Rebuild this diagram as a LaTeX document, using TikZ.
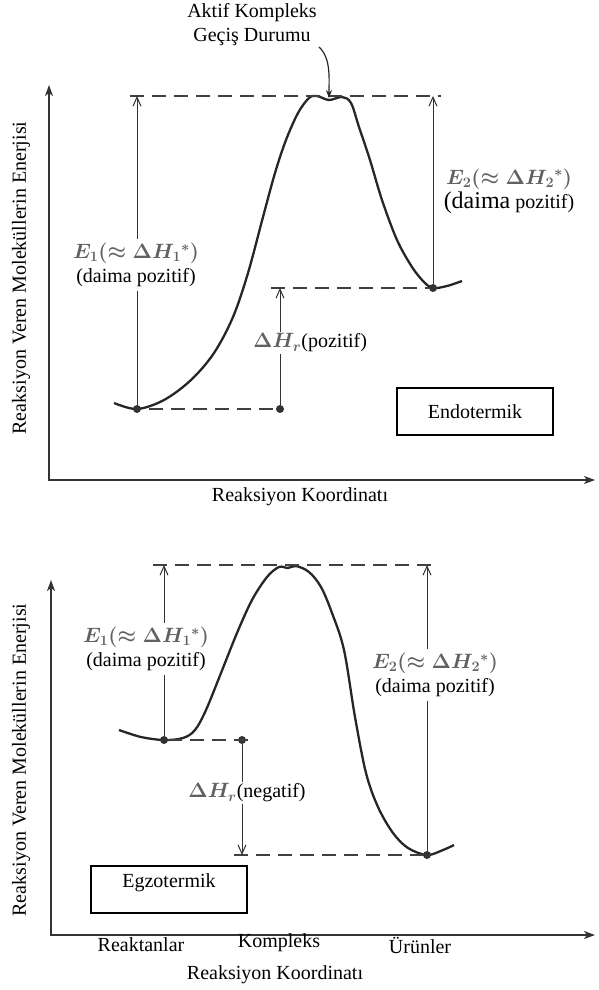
\documentclass[tikz,border=0pt]{standalone}
\usepackage{fontspec}
\setmainfont{Liberation Serif}
\usetikzlibrary{arrows.meta,positioning}

\newcommand{\enlbl}[1]{\textcolor{black!62}{\fontsize{21}{24}\selectfont\boldmath$#1$}}

\begin{document}
\begin{tikzpicture}[x=1pt, y=-1pt,
        font=\fontsize{20}{24}\selectfont,
        axis/.style={line width=1.6pt, black!80, {Stealth[length=11pt,width=8pt,inset=3pt]}-{Stealth[length=11pt,width=8pt,inset=3pt]}},
        curve/.style={line width=2.3pt, black!85},
        arrow/.style={line width=1pt, black!80, -{Straight Barb[length=9pt,width=8pt]}},
        level/.style={line width=1.3pt, black!75, dash pattern=on 14pt off 8pt},
        dot/.style={circle, fill=black!80, inner sep=0pt, minimum size=8pt},
        box/.style={draw, line width=1.2pt, minimum width=156pt, minimum height=47pt},
        lbl/.style={fill=white, inner sep=4pt, align=center}
      ]
      \useasboundingbox (0,0) rectangle (598,990);

      % endotermik
      \coordinate (o1) at (49,480);
      \coordinate (ytip1) at (49,85);
      \coordinate (xtip1) at (595,480);
      \coordinate (lv1a) at (130,96);
      \coordinate (lv1b) at (441,96);
      \coordinate (ts1) at (329,98);
      \coordinate (d1) at (271,288);
      \coordinate (akt) at (319,47);
      \draw[axis] (ytip1) -- (o1) -- (xtip1);
      \draw[curve] plot[smooth, tension=0.55] coordinates {(114,403) (137,409) (164,400) (191,380)
        (214,353) (233,317) (248,273) (263,217) (275,173) (286,140) (298,113) (309,98) (317,96)
        (329,100) (342,97) (351,103) (359,127) (370,160) (382,200) (397,240) (412,267) (424,282)
        (433,288) (447,286) (462,281)};
      \node[dot] (r1) at (137,409) {};
      \node[dot] (h1) at (280,409) {};
      \node[dot] (p1) at (433,288) {};
      \draw[level] (lv1a) -- (lv1b);
      \draw[level] ([xshift=12pt]r1.center) -- (h1);
      \draw[level] (d1) -- (p1);
      \draw[arrow] (r1) -- (r1 |- lv1a);
      \draw[arrow] (p1) -- (p1 |- lv1a);
      \draw[arrow] (h1) -- (h1 |- p1);
      \node[lbl] (e1lbl1) at (136,265) {\enlbl{E_1(\approx\Delta H_1{}^*)}\\(daima pozitif)};
      \node[lbl, inner sep=2pt] (dhlbl1) at (310,343) {\enlbl{\Delta H_r}(pozitif)};
      \node[align=center] (e2lbl1) at (509,191) {\enlbl{E_2(\approx\Delta H_2{}^*)}\\{\fontsize{24}{24}\selectfont(daima} pozitif)};
      \node[box] (endo) at (475,411.5) {Endotermik};
      \node[align=center] (aktif) at (252,25) {Aktif Kompleks\\Geçiş Durumu};
      \draw[line width=1.2pt, black!85, -{Stealth[length=8pt,width=6pt]}] (akt) .. controls (331,58) and (329,78) .. (ts1);
      \node[rotate=90] (ylbl1) at (21,278) {Reaksiyon Veren Moleküllerin Enerjisi};
      \node (xlbl1) at (300,497) {Reaksiyon Koordinatı};

      % egzotermik
      \coordinate (o2) at (51,935);
      \coordinate (ytip2) at (51,580);
      \coordinate (xtip2) at (595,935);
      \coordinate (lv2a) at (153,565);
      \coordinate (lv2b) at (433,565);
      \coordinate (d2) at (234,855);
      \draw[axis] (ytip2) -- (o2) -- (xtip2);
      \draw[curve] plot[smooth, tension=0.55] coordinates {(119,730) (141,737) (164,740) (183,738)
        (195,730) (206,710) (221,673) (237,633) (252,600) (267,577) (279,567) (288,568) (296,566)
        (309,572) (321,587) (332,613) (344,650) (355,717) (366,773) (378,807) (393,833) (408,848)
        (427,855) (443,850) (454,845)};
      \node[dot] (r2) at (164,740) {};
      \node[dot] (h2) at (242,740) {};
      \node[dot] (p2) at (427,855) {};
      \draw[level] (lv2a) -- (lv2b);
      \draw[level] (r2) -- ([xshift=10pt]h2.center);
      \draw[level] (d2) -- (p2);
      \draw[arrow] (r2) -- (r2 |- lv2a);
      \draw[arrow] (p2) -- (p2 |- lv2a);
      \draw[arrow] (h2) -- (h2 |- p2);
      \node[lbl] (e1lbl2) at (146,649) {\enlbl{E_1(\approx\Delta H_1{}^*)}\\(daima pozitif)};
      \node[lbl, inner sep=2pt] (dhlbl2) at (247,793) {\enlbl{\Delta H_r}(negatif)};
      \node[lbl] (e2lbl2) at (435,675) {\enlbl{E_2(\approx\Delta H_2{}^*)}\\(daima pozitif)};
      \node[box, text height=14pt, text depth=18pt, inner sep=7.5pt, minimum height=0pt] (egzo) at (169,889.5) {Egzotermik};
      \node (reakt) at (141,945) {Reaktanlar};
      \node (komp) at (279,943) {Kompleks};
      \node (urun) at (420,945) {Ürünler};
      \node[rotate=90] (ylbl2) at (21,760) {Reaksiyon Veren Moleküllerin Enerjisi};
      \node (xlbl2) at (275,975) {Reaksiyon Koordinatı};
    \end{tikzpicture}
\end{document}
